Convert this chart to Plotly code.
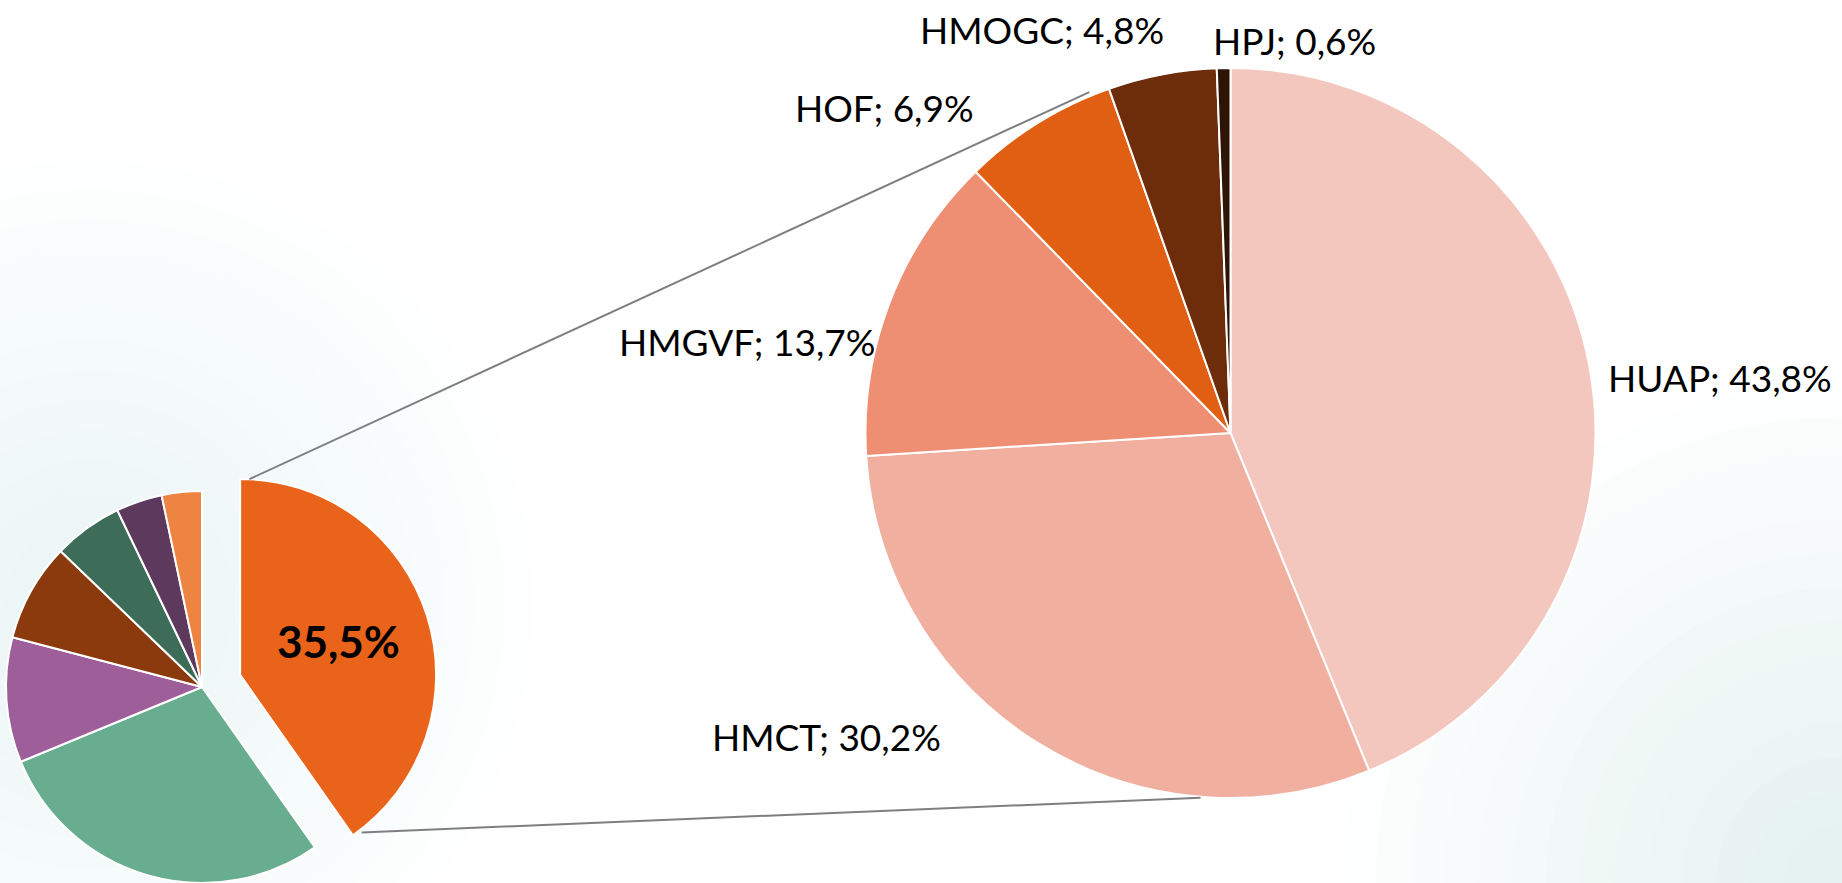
import math
import plotly.graph_objects as go

W, H = 1842, 883

# ---------------- data ----------------
# detail pie (right)
detail_labels = ["HUAP", "HMCT", "HMGVF", "HOF", "HMOGC", "HPJ"]
detail_values = [43.8, 30.2, 13.7, 6.9, 4.8, 0.6]
detail_colors = ["#F4C7BE", "#F1AFA0", "#EE8E73", "#E05F12", "#6D2C0A", "#2E1404"]

# overview pie (left) - slice shares as drawn
overview_values = [40.2, 28.5, 10.3, 8.1, 5.7, 3.8, 3.3]
overview_colors = ["#E9631A", "#69AD90", "#9D5E9A", "#8A3A0C", "#3D6C58", "#5D395E", "#EE8442"]
overview_label = "35,5%"

# ---------------- geometry (pixels) ----------------
big_cx, big_cy, big_r = 1230.5, 433.0, 365.0
sm_cx, sm_cy, sm_r = 202.0, 687.0, 196.0
pull_px = 40.0


def dom(cx, cy, r):
    return dict(x=[(cx - r) / W, (cx + r) / W], y=[1 - (cy + r) / H, 1 - (cy - r) / H])


def polar(cx, cy, r, ang_deg):
    a = math.radians(ang_deg)
    return cx + r * math.sin(a), cy - r * math.cos(a)


def mix(c0, c1, t):
    return "rgb(%d,%d,%d)" % tuple(round(a + (b - a) * t) for a, b in zip(c0, c1))


# exploded slice centre offset along its mid-angle
tot = sum(overview_values)
mid = overview_values[0] / tot * 360 / 2
ex_cx, ex_cy = polar(sm_cx, sm_cy, pull_px, mid)

fig = go.Figure()

# background rings (radial tint, left) and corner tint (bottom right)
shapes = []
ring_c = (90, 604)
n = 14
for i in range(n):
    R = 444 - i * 30
    shapes.append(dict(type="circle", xref="paper", yref="paper", layer="below",
                       x0=(ring_c[0] - R) / W, x1=(ring_c[0] + R) / W,
                       y0=1 - (ring_c[1] + R) / H, y1=1 - (ring_c[1] - R) / H,
                       fillcolor=mix((253, 254, 254), (236, 245, 246), i / (n - 1)),
                       line=dict(width=0)))
n = 14
for i in range(n):
    R = 500 - i * 34
    shapes.append(dict(type="circle", xref="paper", yref="paper", layer="below",
                       x0=(W - R) / W, x1=(W + R) / W,
                       y0=1 - (H + R) / H, y1=1 - (H - R) / H,
                       fillcolor=mix((253, 254, 254), (229, 242, 240), i / (n - 1)),
                       line=dict(width=0)))

# overview pie: non-exploded slices
fig.add_trace(go.Pie(
    values=overview_values, sort=False, direction="clockwise", rotation=0,
    marker=dict(colors=["rgba(0,0,0,0)"] + overview_colors[1:],
                line=dict(color=["rgba(0,0,0,0)"] + ["white"] * (len(overview_values) - 1), width=2)),
    textinfo="none", hoverinfo="skip", showlegend=False,
    domain=dom(sm_cx, sm_cy, sm_r)))
# overview pie: exploded slice
fig.add_trace(go.Pie(
    values=overview_values, sort=False, direction="clockwise", rotation=0,
    marker=dict(colors=[overview_colors[0]] + ["rgba(0,0,0,0)"] * (len(overview_values) - 1),
                line=dict(color=["white"] + ["rgba(0,0,0,0)"] * (len(overview_values) - 1), width=2)),
    textinfo="none", hoverinfo="skip", showlegend=False,
    domain=dom(ex_cx, ex_cy, sm_r)))
# detail pie
fig.add_trace(go.Pie(
    labels=detail_labels, values=detail_values, sort=False, direction="clockwise", rotation=0,
    marker=dict(colors=detail_colors, line=dict(color="white", width=2)),
    textinfo="none", showlegend=False,
    domain=dom(big_cx, big_cy, big_r)))

# connector lines
ang_end = overview_values[0] / tot * 360
p1 = polar(ex_cx, ex_cy, sm_r, 2.7)
q1 = polar(big_cx, big_cy, big_r + 4, 337.5)
p2 = polar(ex_cx, ex_cy, sm_r + 3, ang_end - 2.5)
q2 = polar(big_cx, big_cy, big_r + 1, 184.7)
for (a, b) in [(p1, q1), (p2, q2)]:
    shapes.append(dict(type="line", xref="paper", yref="paper", layer="above",
                       x0=a[0] / W, y0=1 - a[1] / H, x1=b[0] / W, y1=1 - b[1] / H,
                       line=dict(color="#7F7F7F", width=2)))

# labels
label_pos = {  # pixel centres of label text
    "HUAP": (1720, 377), "HMCT": (826, 736), "HMGVF": (747, 341),
    "HOF": (884, 108), "HMOGC": (1042, 29), "HPJ": (1294, 40),
}
ann = []
for lab, val in zip(detail_labels, detail_values):
    x, y = label_pos[lab]
    txt = f"{lab}; {val:.1f}%".replace(".", ",")
    ann.append(dict(x=x / W, y=1 - y / H, xref="paper", yref="paper", text=txt,
                    showarrow=False, xanchor="center", yanchor="middle",
                    font=dict(family="Lato", size=37, color="black")))
ann.append(dict(x=338 / W, y=1 - 641 / H, xref="paper", yref="paper", text=f"<b>{overview_label}</b>",
                showarrow=False, xanchor="center", yanchor="middle",
                font=dict(family="Lato", size=44, color="black")))

fig.update_layout(width=W, height=H, margin=dict(l=0, r=0, t=0, b=0),
                  paper_bgcolor="white", plot_bgcolor="white",
                  shapes=shapes, annotations=ann, showlegend=False)

fig.write_html("out.html", config={"displayModeBar": False},
               post_script="document.body.style.margin='0';document.body.style.overflow='hidden';")
